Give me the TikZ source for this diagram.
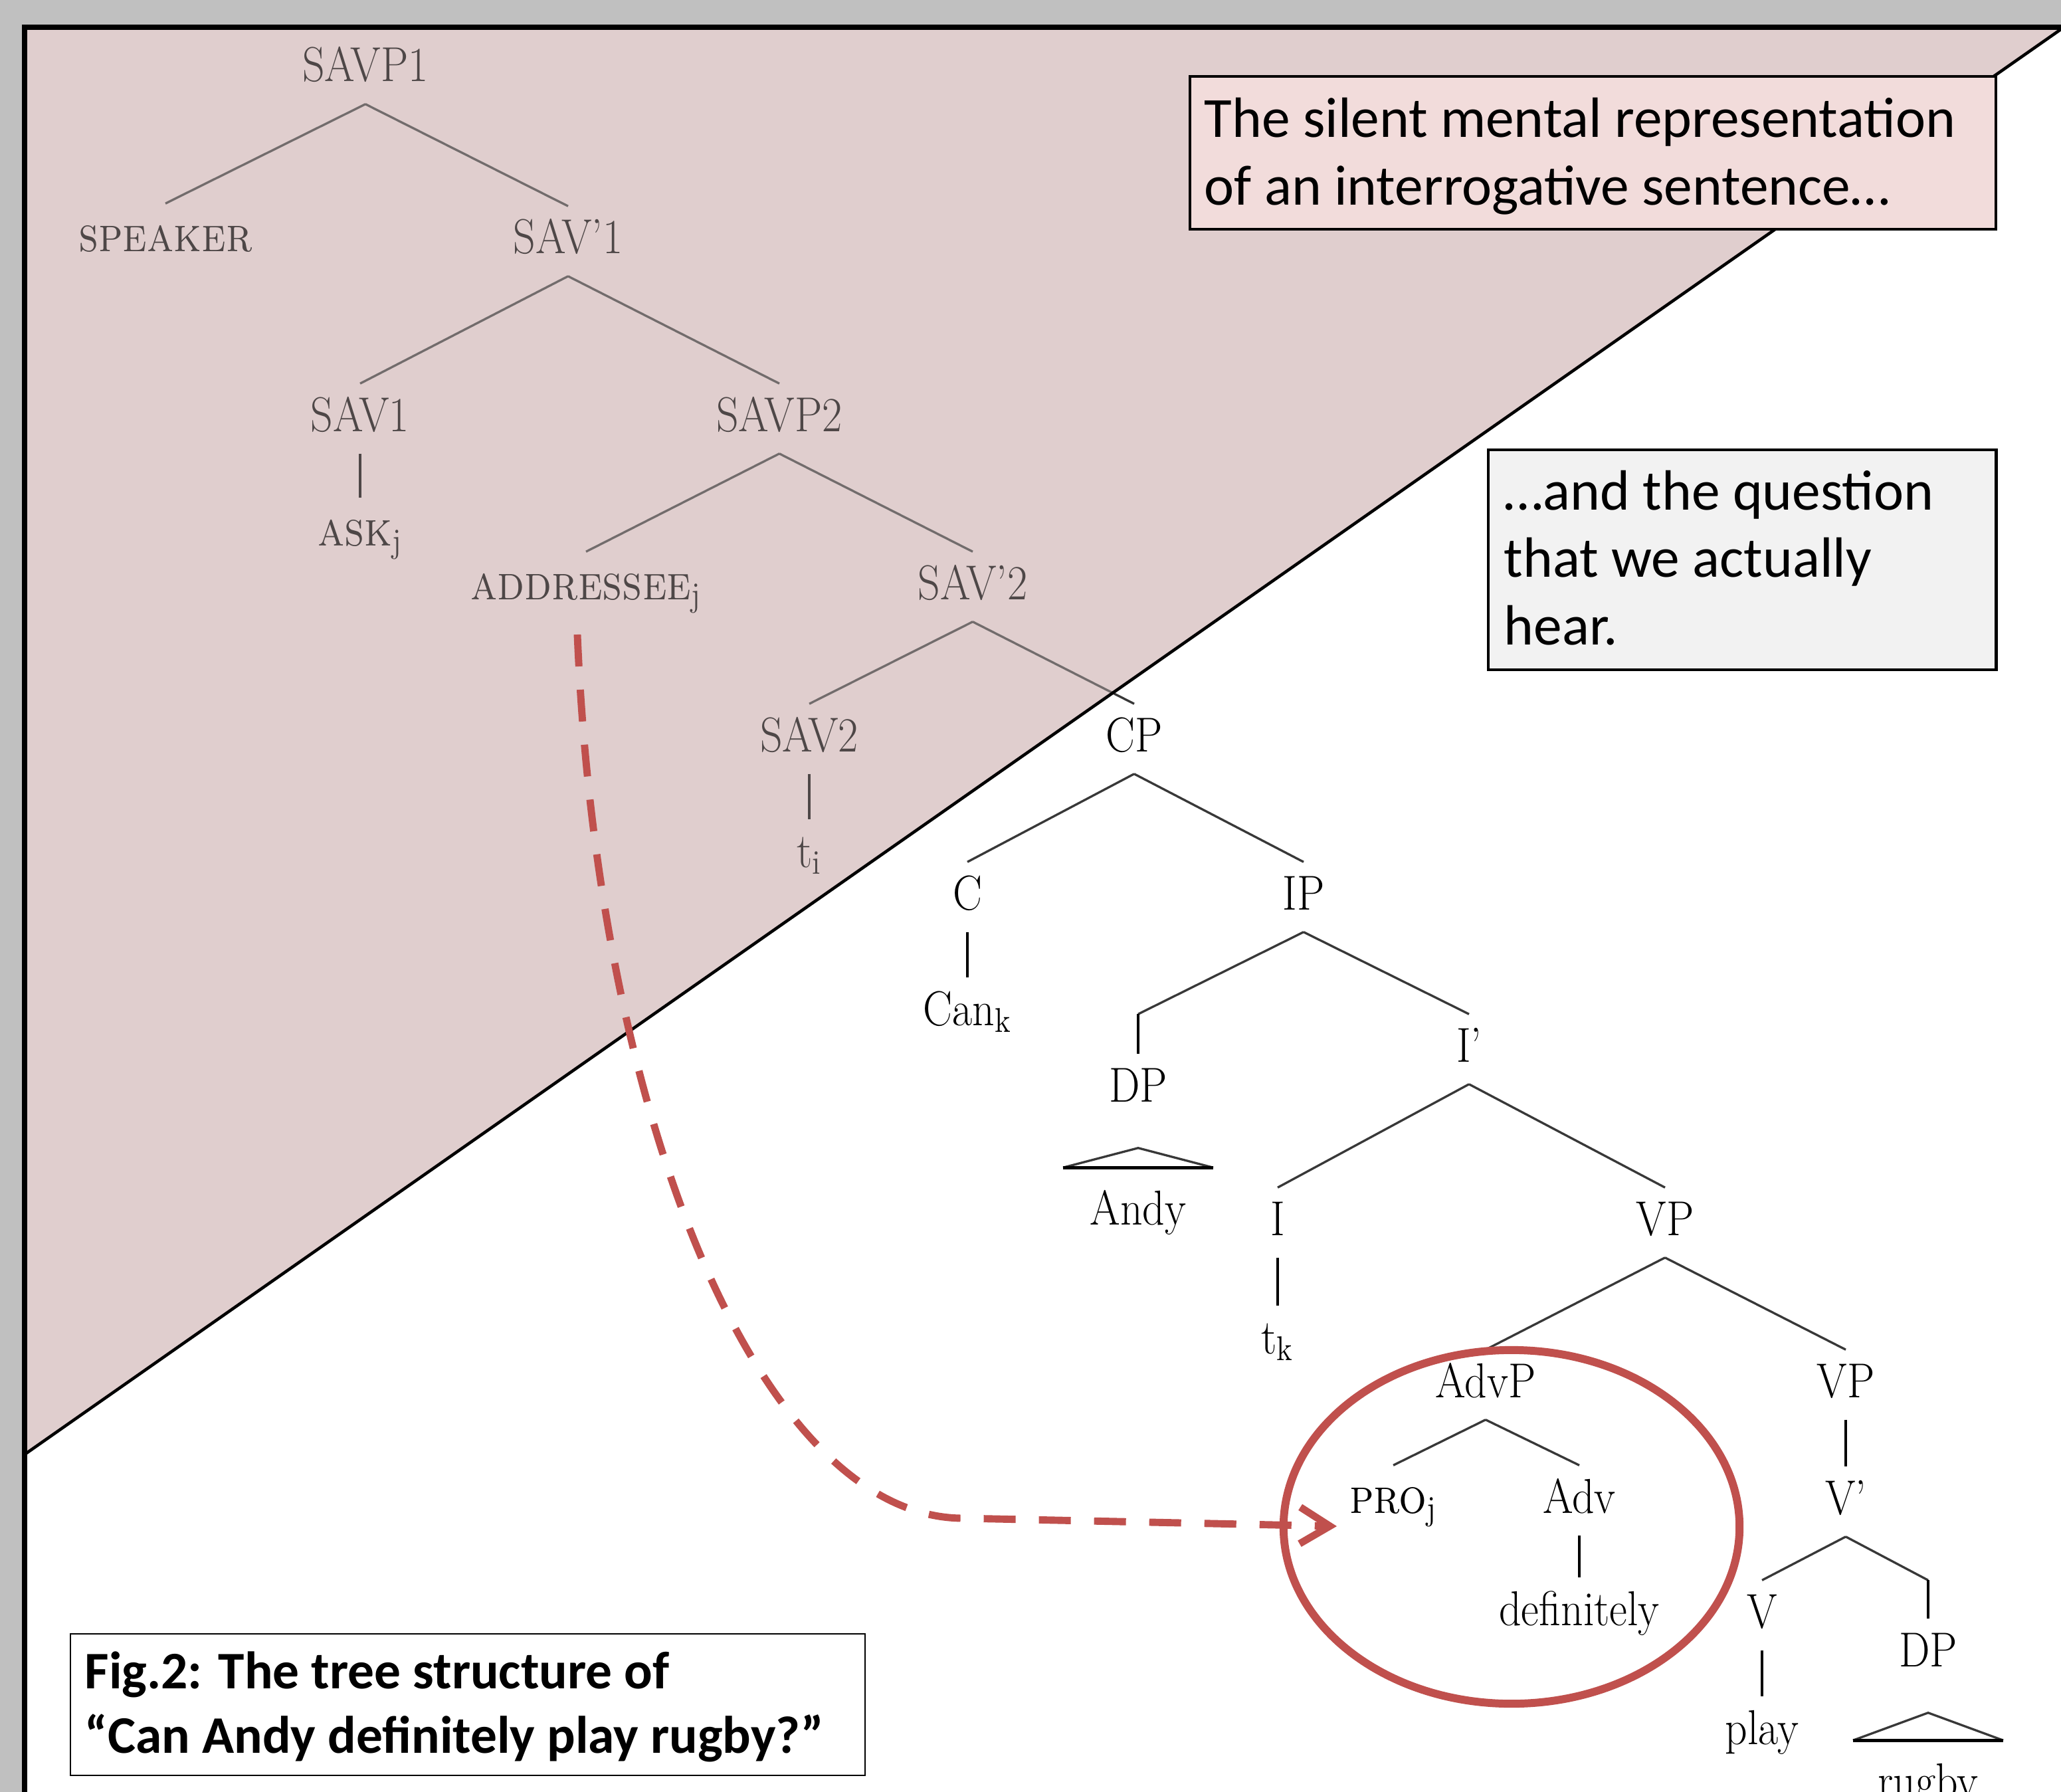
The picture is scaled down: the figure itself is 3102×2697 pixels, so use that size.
\documentclass[tikz,border=0pt]{standalone}
\usepackage{fontspec}
\newfontfamily\calib{Carlito}
\usetikzlibrary{arrows.meta,calc,shapes.geometric}
\definecolor{framegray}{RGB}{192,192,192}
\definecolor{pinkbg}{RGB}{224,206,206}
\definecolor{pinkbox}{RGB}{242,220,219}
\definecolor{graybox}{RGB}{242,242,242}
\definecolor{redline}{RGB}{192,80,77}
\newcommand\hsq[1]{\scalebox{0.89}[1]{#1}}
\begin{document}
\begin{tikzpicture}[x=0.01cm,y=-0.01cm,
  tn/.style={font=\fontsize{21pt}{21pt}\selectfont, text height=0.52cm, text depth=0.14cm,
             inner xsep=0pt, inner ysep=0.19cm, anchor=base, text=black},
  br/.style={draw=black!78, line width=0.95pt},
  vl/.style={draw=black, line width=1.4pt},
  boxtxt/.style={anchor=base west, inner sep=0pt, font=\calib\fontsize{24.3pt}{29pt}\selectfont},
  figtxt/.style={anchor=base west, inner sep=0pt, font=\calib\bfseries\fontsize{22.6pt}{27pt}\selectfont},
  tbox/.style={draw=black, line width=1.2pt, anchor=north west, inner sep=0pt},
  redarrow/.style={draw=redline, line width=3.1pt, dash pattern=on 0.48cm off 0.35cm,
                   -{Straight Barb[length=4.5mm,width=5.5mm]}}
]
\useasboundingbox (0,0) rectangle (3102,2697);
\begin{scope}
\clip (0,0) rectangle (3102,2697);
% backgrounds
\fill[framegray] (0,0) rectangle (3102,2697);
\fill[white] (37,41) rectangle (3102,2697);
\fill[pinkbg] (37,41) -- (3102,41) -- (3102,44) -- (37,2189) -- cycle;

% tree nodes
\node[tn] (savp1) at (550,123) {\hsq{SAVP1}};
\node[tn] (speaker) at (249,378) {\hsq{\textsc{speaker}}};
\node[tn] (savb1) at (855,382) {\hsq{SAV'1}};
\node[tn] (sav1) at (542,649) {\hsq{SAV1}};
\node[tn] (savp2) at (1173,649) {\hsq{SAVP2}};
\node[tn] (ask) at (542,821) {\hsq{\textsc{ask}$_{\mathrm{j}}$}};
\node[tn] (addr) at (882,902) {\hsq{\textsc{addressee}$_{\mathrm{j}}$}};
\node[tn] (savb2) at (1464,902) {\hsq{SAV'2}};
\node[tn] (sav2) at (1218,1131) {\hsq{SAV2}};
\node[tn] (ti) at (1218,1305) {\hsq{t$_{\mathrm{i}}$}};
\node[tn] (cp) at (1707,1131) {\hsq{CP}};
\node[tn] (c) at (1456,1369) {\hsq{C}};
\node[tn] (ip) at (1962,1369) {\hsq{IP}};
\node[tn] (can) at (1456,1543) {\hsq{Can$_{\mathrm{k}}$}};
\node[tn] (dp1) at (1713,1658) {\hsq{DP}};
\node[tn] (andy) at (1713,1843) {\hsq{Andy}};
\node[tn] (ib) at (2211,1598) {\hsq{I'}};
\node[tn] (i) at (1923,1859) {\hsq{I}};
\node[tn] (vp1) at (2506,1859) {\hsq{VP}};
\node[tn] (tk) at (1923,2037) {\hsq{t$_{\mathrm{k}}$}};
\node[tn] (advp) at (2236,2103) {\hsq{AdvP}};
\node[tn] (vp2) at (2778,2103) {\hsq{VP}};
\node[tn] (pro) at (2097,2277) {\hsq{\textsc{pro}$_{\mathrm{j}}$}};
\node[tn] (adv) at (2377,2277) {\hsq{Adv}};
\node[tn] (def) at (2377,2446) {\hsq{definitely}};
\node[tn] (vb) at (2778,2279) {\hsq{V'}};
\node[tn] (v) at (2652,2450) {\hsq{V}};
\node[tn] (dp2) at (2902,2508) {\hsq{DP}};
\node[tn] (play) at (2652,2625) {\hsq{play}};
\node[tn] (rugby) at (2902,2705) {\hsq{rugby}};

% tree edges
\draw[br] (savp1.south) -- (speaker.north);
\draw[br] (savp1.south) -- (savb1.north);
\draw[br] (savb1.south) -- (sav1.north);
\draw[br] (savb1.south) -- (savp2.north);
\draw[vl] (sav1.south) -- (ask.north);
\draw[br] (savp2.south) -- (addr.north);
\draw[br] (savp2.south) -- (savb2.north);
\draw[br] (savb2.south) -- (sav2.north);
\draw[br] (savb2.south) -- (cp.north);
\draw[vl] (sav2.south) -- (ti.north);
\draw[br] (cp.south) -- (c.north);
\draw[br] (cp.south) -- (ip.north);
\draw[vl] (c.south) -- (can.north);
\draw[br] (ip.south) -- (dp1.north |- ib.north);
\draw[vl] (dp1.north |- ib.north) -- (dp1.north);
\draw[br] (ip.south) -- (ib.north);
\draw[br] ($(andy.north)+(-113,-14)$) -- ($(dp1.south)+(0,36)$) -- ($(andy.north)+(113,-14)$);
\draw[vl] ($(andy.north)+(-113,-14)$) -- ($(andy.north)+(113,-14)$);
\draw[br] (ib.south) -- (i.north);
\draw[br] (ib.south) -- (vp1.north);
\draw[vl] (i.south) -- (tk.north);
\draw[br] (vp1.south) -- (advp.north);
\draw[br] (vp1.south) -- (vp2.north);
\draw[br] (advp.south) -- (pro.north);
\draw[br] (advp.south) -- (adv.north);
\draw[vl] (adv.south) -- (def.north);
\draw[vl] (vp2.south) -- (vb.north);
\draw[br] (vb.south) -- (v.north);
\draw[br] (vb.south) -- (dp2.north |- v.north);
\draw[vl] (dp2.north |- v.north) -- (dp2.north);
\draw[vl] (v.south) -- (play.north);
\draw[br] ($(rugby.north)+(-113,-14)$) -- ($(dp2.south)+(0,36)$) -- ($(rugby.north)+(113,-14)$);
\draw[vl] ($(rugby.north)+(-113,-14)$) -- ($(rugby.north)+(113,-14)$);

% pink veil over the upper part of the tree
\fill[pinkbg, fill opacity=0.35] (37,41) -- (3102,41) -- (3102,44) -- (37,2189) -- cycle;
% diagonal and frame
\draw[line width=1.3pt] (3102,44) -- (37,2189);
\draw[line width=2.3pt] (33,41) -- (3102,41);
\draw[line width=2.3pt] (37,37) -- (37,2697);

% red highlight
\node[ellipse, draw=redline, line width=3.4pt, minimum width=6.86cm, minimum height=5.32cm, inner sep=0pt] (circ) at (2275,2298) {};
\coordinate (arrS) at (869,955);
\coordinate (arrE) at (2012,2297);
\draw[redarrow] (arrS) .. controls (900,1700) and (1150,2285) .. (1450,2285) -- (arrE);

% text boxes
\node[tbox, fill=pinkbox, minimum width=12.12cm, minimum height=2.30cm] (b1) at (1789,113) {};
\node[boxtxt] (b1a) at (1812,207) {The silent mental representation};
\node[boxtxt] (b1b) at (1812,308) {of an interrogative sentence…};
\node[tbox, fill=graybox, minimum width=7.64cm, minimum height=3.31cm] (b2) at (2238,675) {};
\node[boxtxt] (b2a) at (2263,767) {…and the question};
\node[boxtxt] (b2b) at (2263,868) {that we actually};
\node[boxtxt] (b2c) at (2263,970) {hear.};
\node[tbox, fill=white, line width=0.6pt, minimum width=11.95cm, minimum height=2.13cm] (fig) at (105,2458) {};
\node[figtxt] (figa) at (127,2541) {Fig.2: The tree structure of};
\node[figtxt] (figb) at (127,2638) {“Can Andy definitely play rugby?”};
\end{scope}
\end{tikzpicture}
\end{document}
